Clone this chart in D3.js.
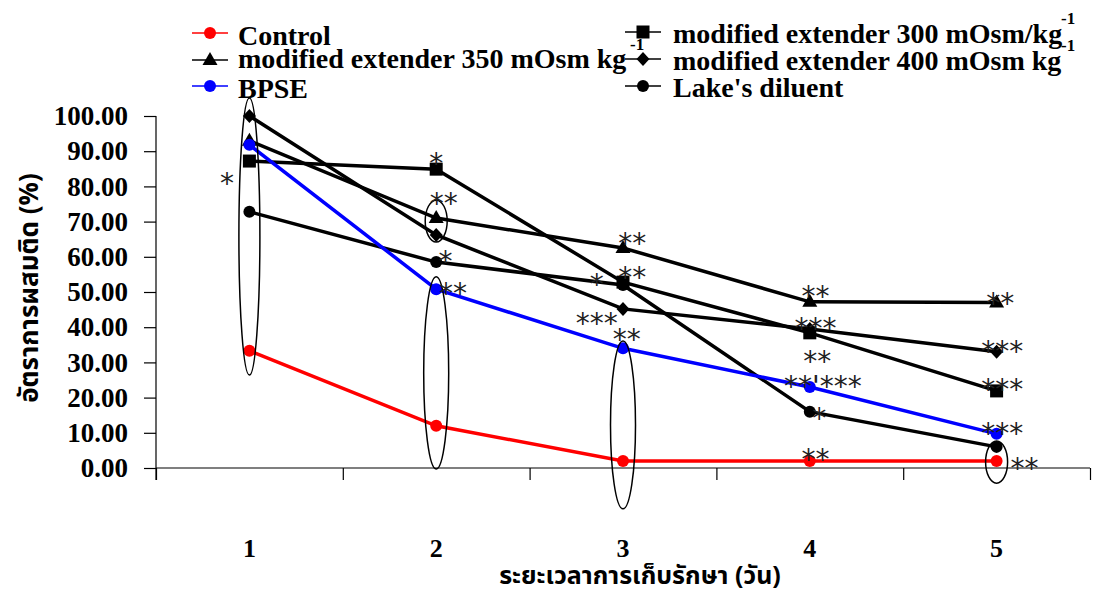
<!DOCTYPE html>
<html><head><meta charset="utf-8">
<script src="https://cdn.jsdelivr.net/npm/d3@7"></script>
<style>body{margin:0;background:#fff}svg{display:block}</style>
</head><body>
<svg id="chart" width="1093" height="596"></svg>
<script>
const days = [1, 2, 3, 4, 5];
const yTicks = [0, 10, 20, 30, 40, 50, 60, 70, 80, 90, 100];
const control = [33.3, 12.0, 2.0, 2.0, 2.0];
const ext350 = [93.0, 71.0, 62.5, 47.2, 47.0];
const bpse = [91.8, 50.8, 34.0, 23.0, 9.7];
const ext300 = [87.2, 84.9, 52.8, 38.4, 21.9];
const ext400 = [100.0, 66.2, 45.2, 39.5, 33.0];
const lakes = [72.8, 58.5, 52.0, 16.0, 6.0];

// significance labels: [day position, value position, text]
const annotations = [
  [0.88, 82.7, "*"], [2.0, 88.4, "*"], [2.04, 77.0, "**"], [2.05, 60.5, "*"], [2.09, 51.4, "**"],
  [3.05, 65.6, "**"], [2.86, 54.0, "*"], [3.05, 56.0, "**"], [2.86, 42.9, "***"], [3.02, 38.4, "**"],
  [4.03, 50.6, "**"], [4.03, 41.5, "***"], [4.04, 32.1, "**"], [4.07, 25.0, "**'***"], [4.05, 15.9, "*"], [4.03, 4.3, "**"],
  [5.02, 48.6, "**"], [5.03, 34.9, "***"], [5.03, 24.1, "***"], [5.03, 11.6, "***"], [5.15, 1.7, "**"]
];
// ellipses: [day, top value, bottom value]
const ellipses = [[1, 105.1, 26.4], [2, 76.1, 64.2], [2, 54.3, -0.3], [3, 36.1, -11.6], [5, 7.7, -4.3]];

const series = [
  {name: "Control", values: control, color: "#ff0000", marker: "circle"},
  {name: "modified extender 350 mOsm kg", values: ext350, color: "#000", marker: "triangle"},
  {name: "BPSE", values: bpse, color: "#0000ff", marker: "circle"},
  {name: "modified extender 300 mOsm/kg", values: ext300, color: "#000", marker: "square"},
  {name: "modified extender 400 mOsm kg", values: ext400, color: "#000", marker: "diamond"},
  {name: "Lake's diluent", values: lakes, color: "#000", marker: "circle"}
];

const svg = d3.select("#chart");
const x = d3.scaleLinear().domain([0.5, 5.5]).range([156, 1090]);
const y = d3.scaleLinear().domain([0, 100]).range([468, 116]);
const serif = "'Liberation Serif','Times New Roman',serif";
const thai = "'Noto Sans Thai','Tahoma','DejaVu Sans',sans-serif";

// axes
const yAxis = svg.append("g").attr("transform", "translate(156,0)")
  .call(d3.axisLeft(y).tickValues(yTicks).tickSize(12).tickPadding(16).tickFormat(d3.format(".2f")));
yAxis.select(".domain").attr("d", "M0,116V480");
yAxis.selectAll("text").attr("font-family", serif).attr("font-weight", "bold").attr("font-size", 27).attr("fill", "#000");
const xAxis = svg.append("g").attr("transform", "translate(0,468)")
  .call(d3.axisBottom(x).tickValues([0.5, 1.5, 2.5, 3.5, 4.5, 5.5]).tickSize(12).tickFormat(""));
xAxis.select(".domain").attr("d", "M156,0H1090");
svg.selectAll(".domain, .tick line").attr("stroke", "#000").attr("stroke-width", 1.2);

svg.append("g").selectAll("text").data(days).join("text")
  .attr("x", d => x(d)).attr("y", 557).attr("text-anchor", "middle")
  .attr("font-family", serif).attr("font-weight", "bold").attr("font-size", 26).text(d => d);

// titles
svg.append("text").attr("x", 640).attr("y", 584).attr("text-anchor", "middle")
  .attr("font-family", thai).attr("font-weight", "bold").attr("font-size", 25)
  .text("ระยะเวลาการเก็บรักษา (วัน)");
svg.append("text").attr("transform", "translate(38,288) rotate(-90)").attr("text-anchor", "middle")
  .attr("font-family", thai).attr("font-weight", "bold").attr("font-size", 26)
  .text("อัตราการผสมติด (%)");

function marker(g, type, color, cx, cy) {
  if (type === "circle") g.append("circle").attr("cx", cx).attr("cy", cy).attr("r", 6).attr("fill", color);
  else if (type === "square") g.append("rect").attr("x", cx - 6.5).attr("y", cy - 6.5).attr("width", 13).attr("height", 13).attr("fill", color);
  else if (type === "triangle") g.append("path").attr("d", `M${cx},${cy - 8}L${cx + 7.5},${cy + 5}L${cx - 7.5},${cy + 5}Z`).attr("fill", color);
  else if (type === "diamond") g.append("path").attr("d", `M${cx},${cy - 7}L${cx + 6.5},${cy}L${cx},${cy + 7}L${cx - 6.5},${cy}Z`).attr("fill", color);
}

// lines
const line = d3.line().x((d, i) => x(days[i])).y(d => y(d));
const order = [5, 3, 1, 4, 2, 0];
order.forEach(k => {
  const s = series[k];
  const g = svg.append("g");
  g.append("path").attr("d", line(s.values)).attr("fill", "none").attr("stroke", s.color).attr("stroke-width", 3.5);
  s.values.forEach((v, i) => marker(g, s.marker, s.color, x(days[i]), y(v)));
});

// ellipses
svg.append("g").selectAll("ellipse").data(ellipses).join("ellipse")
  .attr("cx", d => x(d[0])).attr("cy", d => (y(d[1]) + y(d[2])) / 2)
  .attr("rx", d => d[0] === 1 ? 10.5 : (d[1] - d[2] > 30 ? 12.5 : 11))
  .attr("ry", d => (y(d[2]) - y(d[1])) / 2)
  .attr("fill", "none").attr("stroke", "#000").attr("stroke-width", 1.5);

// annotations
svg.append("g").selectAll("text").data(annotations).join("text")
  .attr("x", d => x(d[0])).attr("y", d => y(d[1]) + 16).attr("text-anchor", "middle")
  .attr("font-family", "'DejaVu Sans',sans-serif").attr("font-size", 28).attr("fill", "#222").text(d => d[2]);

// legend
const legLeft = [[0, 210, 33, 45], [1, 210, 60, 68], [2, 210, 86, 98]];
const legRight = [[3, 643, 32, 43], [4, 643, 59, 70], [5, 643, 86, 97]];
[...legLeft, ...legRight].forEach(([k, mx, my, by]) => {
  const s = series[k];
  const g = svg.append("g");
  g.append("line").attr("x1", mx - 18).attr("x2", mx + 18).attr("y1", my).attr("y2", my).attr("stroke", s.color).attr("stroke-width", 1.5);
  marker(g, s.marker, s.color, mx, my);
  g.append("text").attr("x", mx + (mx < 400 ? 28 : 30)).attr("y", by).attr("font-family", serif).attr("font-weight", "bold").attr("font-size", 28).text(s.name);
});
const sup = [[1061, 24], [630, 50], [1061, 51]];
svg.append("g").selectAll("text").data(sup).join("text")
  .attr("x", d => d[0]).attr("y", d => d[1]).attr("font-family", serif).attr("font-weight", "bold").attr("font-size", 17).text("-1");
</script>
</body></html>
